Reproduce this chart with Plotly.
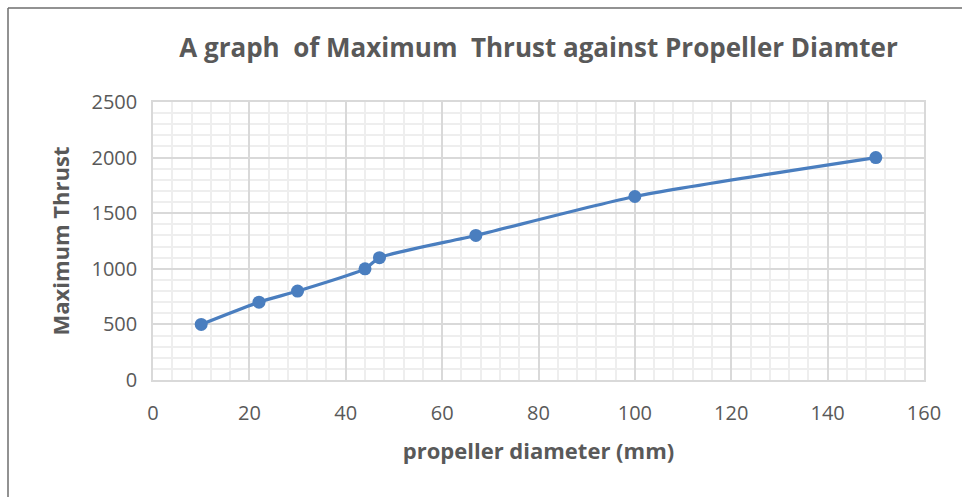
import plotly.graph_objects as go

diameter_mm = [10, 22, 30, 44, 47, 67, 100, 150]
max_thrust = [500, 700, 800, 1000, 1100, 1300, 1650, 2000]

title_text = "A graph  of Maximum  Thrust against Propeller Diamter"
x_title = "propeller diameter (mm)"
y_title = "Maximum Thrust"

FONT = "Open Sans, Noto Sans, sans-serif"
TXT = "#595959"
BLUE = "#4a7ebf"

fig = go.Figure()
fig.add_trace(go.Scatter(
    x=diameter_mm, y=max_thrust, mode="lines+markers",
    line=dict(color=BLUE, width=3.2, shape="spline", smoothing=0.6),
    marker=dict(color=BLUE, size=13),
    showlegend=False,
))

W, H = 962, 497
L, R, T, B = 153, 38, 102, 117
pw, ph = W - L - R, H - T - B

def px(x):
    return (x - L) / pw

def py(y):
    return 1 - (y - T) / ph

fig.update_layout(
    width=W, height=H,
    margin=dict(l=L, r=R, t=T, b=B),
    paper_bgcolor="white", plot_bgcolor="white",
    font=dict(family=FONT, color=TXT, size=20),
    title=dict(text="<b>" + title_text + "</b>", x=0.5, xref="paper", xanchor="center",
               y=1 - 48 / H, yanchor="middle", font=dict(size=26, color=TXT)),
    shapes=[
        dict(type="line", xref="paper", yref="paper", x0=px(8), x1=px(W + 5), y0=py(8), y1=py(8),
             line=dict(color="#6e6e6e", width=1.5)),
        dict(type="line", xref="paper", yref="paper", x0=px(8), x1=px(8), y0=py(8), y1=py(H + 5),
             line=dict(color="#6e6e6e", width=1.5)),
    ],
)

fig.update_xaxes(
    range=[0, 160], dtick=20, tick0=0,
    showgrid=True, gridcolor="#d9d9d9", gridwidth=1.5,
    minor=dict(dtick=4, showgrid=True, gridcolor="#eeeeee", gridwidth=2),
    showline=True, linecolor="#d9d9d9", linewidth=1.5, mirror=True,
    ticks="outside", ticklen=14, tickcolor="rgba(0,0,0,0)",
    tickfont=dict(size=20, color=TXT),
    zeroline=False,
    title=dict(text="<b>" + x_title + "</b>", font=dict(size=22, color=TXT), standoff=19),
)
fig.update_yaxes(
    range=[0, 2500], dtick=500, tick0=0,
    showgrid=True, gridcolor="#d9d9d9", gridwidth=1.5,
    minor=dict(dtick=100, showgrid=True, gridcolor="#eeeeee", gridwidth=2),
    showline=True, linecolor="#d9d9d9", linewidth=1.5, mirror=True,
    ticks="outside", ticklen=10, tickcolor="rgba(0,0,0,0)",
    tickfont=dict(size=20, color=TXT),
    zeroline=False,
    title=dict(text="<b>" + y_title + "</b>", font=dict(size=22, color=TXT), standoff=16),
)

fig.write_html("out.html")
